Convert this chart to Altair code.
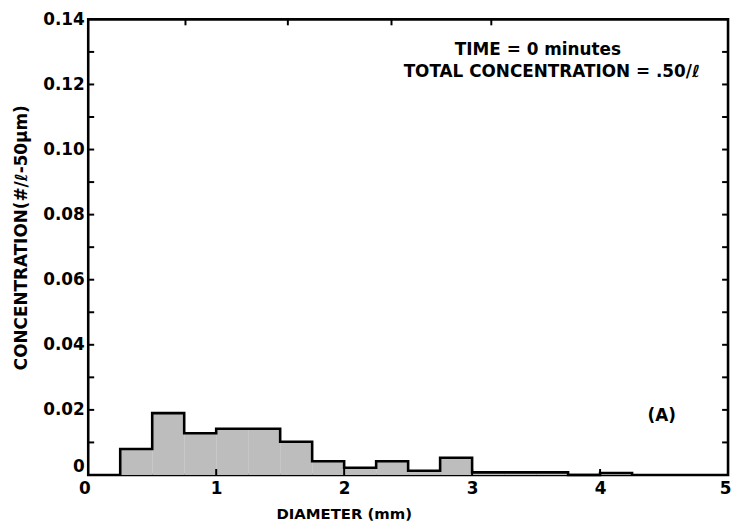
import altair as alt
import pandas as pd

# Histogram bins (diameter, mm) and concentration values
bin_start = [0.25, 0.50, 0.75, 1.00, 1.25, 1.50, 1.75, 2.00, 2.25, 2.50, 2.75, 3.00, 3.25, 3.50, 3.75, 4.00]
bin_end   = [0.50, 0.75, 1.00, 1.25, 1.50, 1.75, 2.00, 2.25, 2.50, 2.75, 3.00, 3.25, 3.50, 3.75, 4.00, 4.25]
conc      = [0.008, 0.019, 0.0128, 0.0142, 0.0142, 0.0102, 0.0042, 0.0022, 0.0042, 0.0013, 0.0053, 0.0008, 0.0008, 0.0008, 0.0, 0.0006]

x_labels = [0, 1, 2, 3, 4, 5]
y_labels = [0, 0.02, 0.04, 0.06, 0.08, 0.10, 0.12, 0.14]
y_minor = [0.01, 0.02, 0.03, 0.04, 0.05, 0.06, 0.07, 0.08, 0.09, 0.10, 0.11, 0.12, 0.13]
x_bottom_ticks = [1, 2, 3, 4]
x_top_ticks = [0.76, 1.56, 2.37, 3.15]

W, H = 646, 460
FONT = "DejaVu Sans"

bars = pd.DataFrame({"x0": bin_start, "x1": bin_end, "v": conc})

# outline points of the step histogram
ox, oy = [bin_start[0]], [0.0]
for a, b, v in zip(bin_start, bin_end, conc):
    ox += [a, b]
    oy += [v, v]
ox.append(bin_end[-1])
oy.append(0.0)
outline = pd.DataFrame({"x": ox, "y": oy, "o": list(range(len(ox)))})

xscale = alt.Scale(domain=[0, 5], nice=False, zero=False)
yscale = alt.Scale(domain=[0, 0.14], nice=False)

xaxis = alt.Axis(values=x_labels, format="d", ticks=False, domain=False, grid=False,
                 labelFont=FONT, labelFontSize=17, labelFontWeight="bold", labelColor="black",
                 labelPadding=6, labelFlush=False,
                 labelOffset={"condition": [{"test": "datum.value == 0", "value": -4},
                                            {"test": "datum.value == 5", "value": -3}],
                              "value": 0},
                 title="DIAMETER (mm)", titleFont=FONT, titleFontSize=15, titleFontWeight="bold",
                 titleColor="black", titleX=258, titleY=39, titleAlign="center", titleBaseline="middle")
yaxis = alt.Axis(values=y_labels, labelExpr="datum.value == 0 ? '0' : format(datum.value, '.2f')",
                 ticks=False, domain=False, grid=False,
                 labelFont=FONT, labelFontSize=17, labelFontWeight="bold", labelColor="black",
                 labelPadding=4, labelFlush=False,
                 labelBaseline={"condition": {"test": "datum.value == 0", "value": "bottom"},
                                "value": "middle"},
                 title="CONCENTRATION(#/ℓ-50μm)", titleFont=FONT, titleFontSize=17, titleFontWeight="bold",
                 titleColor="black", titleX=-67, titleY=220, titleAlign="center", titleBaseline="middle",
                 titleAngle=270)

fill = alt.Chart(bars).mark_rect(color="#bdbdbd").encode(
    x=alt.X("x0:Q", scale=xscale, axis=xaxis),
    x2="x1:Q",
    y=alt.Y("v:Q", scale=yscale, axis=yaxis),
    y2=alt.datum(0),
)

line = alt.Chart(outline).mark_line(color="black", strokeWidth=2.6, strokeJoin="miter").encode(
    x=alt.X("x:Q", scale=xscale),
    y=alt.Y("y:Q", scale=yscale),
    order="o:Q",
)

ydf = pd.DataFrame({"y": y_minor})
left_ticks = alt.Chart(ydf).mark_rule(color="black", strokeWidth=2).encode(
    y=alt.Y("y:Q", scale=yscale), x=alt.value(0), x2=alt.value(6))
right_ticks = alt.Chart(ydf).mark_rule(color="black", strokeWidth=2).encode(
    y=alt.Y("y:Q", scale=yscale), x=alt.value(W - 6), x2=alt.value(W))
bottom_ticks = alt.Chart(pd.DataFrame({"x": x_bottom_ticks})).mark_rule(color="black", strokeWidth=2).encode(
    x=alt.X("x:Q", scale=xscale), y=alt.value(H), y2=alt.value(H - 6))
top_ticks = alt.Chart(pd.DataFrame({"x": x_top_ticks})).mark_rule(color="black", strokeWidth=2).encode(
    x=alt.X("x:Q", scale=xscale), y=alt.value(0), y2=alt.value(6))

ann = pd.DataFrame({
    "t": ["TIME = 0 minutes", "TOTAL CONCENTRATION = .50/ℓ", "(A)"],
    "px": [454, 468, 579],
    "py": [31, 53, 401],
})
texts = alt.Chart(ann).mark_text(font=FONT, fontSize=17, fontWeight="bold", color="black",
                                 align="center", baseline="middle").encode(
    x=alt.X("px:Q", scale=None), y=alt.Y("py:Q", scale=None), text="t:N")

chart = alt.layer(fill, line, left_ticks, right_ticks, bottom_ticks, top_ticks, texts).properties(
    width=W, height=H,
    background="white",
    autosize=alt.AutoSizeParams(type="none"),
    padding={"left": 81, "top": 9, "right": 4, "bottom": 45},
).configure_view(stroke="black", strokeWidth=2.6)

chart.save("out.html", embed_options={"renderer": "svg", "actions": False})
